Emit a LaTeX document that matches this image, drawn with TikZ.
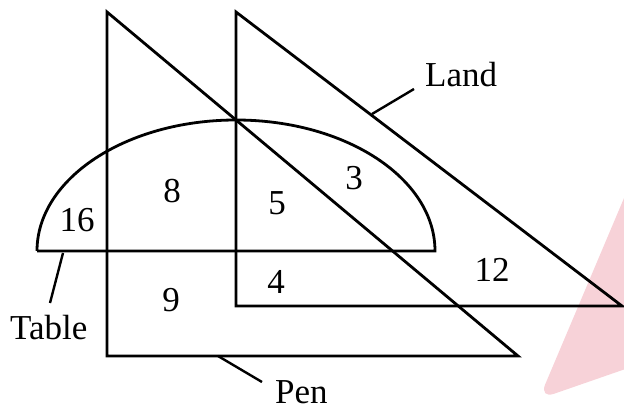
\documentclass[tikz,border=0pt]{standalone}
\usepackage{fontspec}
\setmainfont{Liberation Serif}
\begin{document}
\begin{tikzpicture}[x=1pt,y=-1pt,
  shape line/.style={line width=2.8pt,line join=miter},
  leader/.style={line width=2.4pt},
  num/.style={font=\fontsize{35}{35}\selectfont,inner sep=0pt},
  lbl/.style={font=\fontsize{35}{35}\selectfont,inner sep=0pt,anchor=base west}]
\useasboundingbox (0,0) rectangle (624,411);
\definecolor{wm}{RGB}{247,210,216}
\begin{scope}
\clip (0,0) rectangle (624,411);
\fill[wm,rounded corners=16pt] (539,399) -- (660,113) -- (660,357) -- cycle;
\end{scope}
% Pen triangle
\coordinate (pt) at (107,12);
\coordinate (pb) at (107,356);
\coordinate (pr) at (518,356);
\draw[shape line] (pt) -- (pb) -- (pr) -- cycle;
% Land triangle
\coordinate (lt) at (236,12);
\coordinate (lb) at (236,306);
\coordinate (lr) at (622,306);
\draw[shape line] (lt) -- (lb) -- (lr) -- cycle;
% Table half-ellipse
\coordinate (tl) at (37,251);
\coordinate (tr) at (435,251);
\draw[shape line] (tl) arc[start angle=180,end angle=0,x radius=199pt,y radius=131pt] -- (tl);
% numbers
\node[num] (n16) at (77,220) {16};
\node[num] (n8) at (172,191) {8};
\node[num] (n5) at (277,203) {5};
\node[num] (n3) at (354,178) {3};
\node[num] (n4) at (276,282) {4};
\node[num] (n9) at (171,300) {9};
\node[num] (n12) at (492,270) {12};
% labels
\node[lbl] (land) at (425,87) {Land};
\node[lbl] (table) at (10,340) {Table};
\node[lbl] (pen) at (275,404) {Pen};
% leaders
\coordinate (la) at (372,114);
\coordinate (lb2) at (414,89);
\draw[leader] (la) -- (lb2);
\coordinate (ta) at (63,253);
\coordinate (tb) at (50,303);
\draw[leader] (ta) -- (tb);
\coordinate (pa) at (218,356);
\coordinate (pb2) at (262,382);
\draw[leader] (pa) -- (pb2);
\end{tikzpicture}
\end{document}
